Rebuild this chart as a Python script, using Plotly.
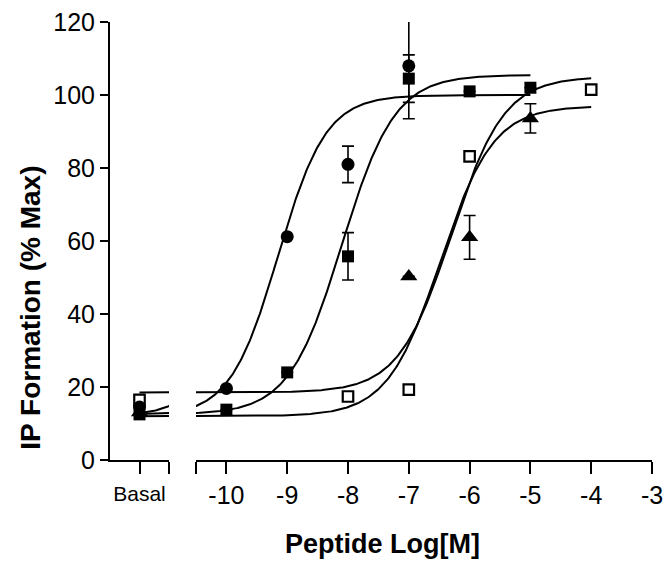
import numpy as np
import plotly.graph_objects as go

# ---------------- data ----------------
BASAL_X = -11.0  # position at which the basal values are plotted (left axis segment)

# filled circles
circ_x = [-10, -9, -8, -7]
circ_y = [19.6, 61.2, 81.0, 108.0]
circ_err = [0, 0, 5.0, 14.5]
circ_basal = 14.5
circ_fit = [12.0, 100.0, -9.15, 1.1, -5.0]   # bottom, top, logEC50, hill, last x

# filled squares
sq_x = [-10, -9, -8, -7, -6, -5]
sq_y = [13.8, 24.0, 55.8, 104.5, 101.0, 102.0]
sq_err = [0, 0, 6.5, 6.5, 0, 0]
sq_basal = 12.5
sq_fit = [12.5, 105.5, -8.1, 1.0, -5.0]

# open squares
osq_x = [-8, -7, -6, -4]
osq_y = [17.4, 19.3, 83.2, 101.5]
osq_err = [0, 0, 0, 0]
osq_basal = 16.5
osq_fit = [18.5, 105.0, -6.3, 1.0, -4.0]

# filled triangles
tri_x = [-7, -6, -5]
tri_y = [50.3, 61.0, 93.6]
tri_err = [0, 6.0, 4.0]
tri_basal = 13.0
tri_fit = [12.0, 97.0, -6.48, 1.0, -4.0]

x_ticks = [-10, -9, -8, -7, -6, -5, -4, -3]
x_ticktext = ["-10", "-9", "-8", "-7", "-6", "-5", "-4", "-3"]
y_ticks = [0, 20, 40, 60, 80, 100, 120]


def logistic(x, bottom, top, logec50, hill):
    return bottom + (top - bottom) / (1.0 + 10 ** ((logec50 - x) * hill))


fig = go.Figure()

series = [
    (circ_x, circ_y, circ_err, circ_basal, circ_fit, "circle", 13),
    (osq_x, osq_y, osq_err, osq_basal, osq_fit, "square-open", 10.5),
    (tri_x, tri_y, tri_err, tri_basal, tri_fit, "triangle-up", 15),
    (sq_x, sq_y, sq_err, sq_basal, sq_fit, "square", 12),
]

# fitted curves (drawn on both axis segments, clipped by each)
for xs, ys, errs, basal, fit, sym, size in series:
    bottom, top, ec, hill, xend = fit
    xx = np.linspace(BASAL_X, xend, 400)
    yy = logistic(xx, bottom, top, ec, hill)
    for xa in ("x", "x2"):
        fig.add_trace(go.Scatter(x=xx, y=yy, mode="lines", xaxis=xa, yaxis="y",
                                 line=dict(color="black", width=2),
                                 hoverinfo="skip", showlegend=False))

# points
for xs, ys, errs, basal, fit, sym, size in series:
    mline = dict(width=2.2, color="black") if "open" in sym else dict(width=0)
    has_err = any(e > 0 for e in errs)
    fig.add_trace(go.Scatter(
        x=xs, y=ys, mode="markers", xaxis="x2", yaxis="y",
        marker=dict(symbol=sym, size=size, color="black", line=mline),
        error_y=dict(type="data", array=errs, visible=has_err, color="black",
                     thickness=1.6, width=6),
        showlegend=False, cliponaxis=False))
    fig.add_trace(go.Scatter(
        x=[BASAL_X], y=[basal], mode="markers", xaxis="x", yaxis="y",
        marker=dict(symbol=sym, size=size, color="black", line=mline),
        showlegend=False, cliponaxis=False))

W, H = 666, 573
PL, PR, PT, PB = 110, 652, 22, 460.5        # plot area in page pixels
L, R, T, B = PL, W - PR, PT, H - PB
pw = PR - PL
ph = PB - PT

tickfont = dict(family="Liberation Sans, Arial, sans-serif", size=25, color="black")

fig.update_layout(
    width=W, height=H,
    margin=dict(l=L, r=R, t=T, b=B, autoexpand=False),
    plot_bgcolor="white", paper_bgcolor="white",
    showlegend=False,
    xaxis=dict(domain=[0, 59 / pw], range=[-11.5, -10.5], anchor="y",
               tickvals=[BASAL_X, -10.5], ticktext=["Basal", ""],
               ticks="outside", ticklen=12, tickwidth=2, tickcolor="black",
               showline=True, linewidth=2, linecolor="black",
               showgrid=False, zeroline=False, ticklabelstandoff=2,
               tickfont=dict(family="Liberation Sans, Arial, sans-serif", size=21, color="black")),
    xaxis2=dict(domain=[86 / pw, 1], range=[-10.5, -3], anchor="y",
                tickvals=[-10.5] + x_ticks, ticktext=[""] + x_ticktext,
                ticks="outside", ticklen=12, tickwidth=2, tickcolor="black",
                showline=True, linewidth=2, linecolor="black",
                showgrid=False, zeroline=False, ticklabelstandoff=0,
                tickfont=tickfont),
    yaxis=dict(range=[0, 120.01], anchor="x", tickvals=y_ticks,
               ticks="outside", ticklen=8, tickwidth=2, tickcolor="black",
               showline=True, linewidth=2, linecolor="black",
               showgrid=False, zeroline=False, tickfont=tickfont),
)

titlefont = dict(family="Liberation Sans, Arial, sans-serif", size=27, color="black", weight="bold")
fig.add_annotation(text="Peptide Log[M]", xref="paper", yref="paper",
                   x=(382 - PL) / pw, y=(PB - 545) / ph, xanchor="center", yanchor="middle",
                   showarrow=False, font=titlefont)
fig.add_annotation(text="IP Formation (% Max)", xref="paper", yref="paper",
                   x=(31 - PL) / pw, y=(PB - 308) / ph, xanchor="center", yanchor="middle",
                   textangle=-90, showarrow=False,
                   font=dict(family="Liberation Sans, Arial, sans-serif", size=28, color="black", weight="bold"))

# remove the default 8px page margin so the 666x573 figure fills the window exactly
fig.write_html("out.html",
               config={"displayModeBar": False, "staticPlot": True},
               post_script="document.body.style.margin='0';document.body.style.overflow='hidden';")
